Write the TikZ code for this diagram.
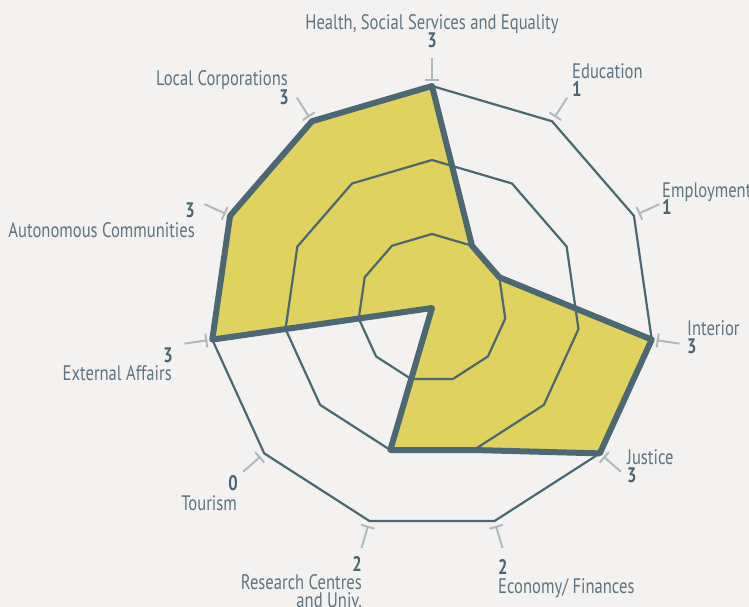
\documentclass[tikz,border=0pt]{standalone}
\usepackage{fontspec}
\setmainfont{PT Sans}
\newfontfamily\lblfam[FakeStretch=0.79]{PT Sans}
\usetikzlibrary{arrows.meta}
\definecolor{bgc}{HTML}{F3F2F0}
\definecolor{yelc}{HTML}{DFD25E}
\definecolor{linec}{HTML}{4C6873}
\definecolor{lblc}{HTML}{5E7480}
\definecolor{numc}{HTML}{4A6571}
\definecolor{tickc}{HTML}{AEB9C0}
\tikzset{
  ring/.style={draw=linec, line width=2.2pt, line join=round},
  datafill/.style={fill=yelc},
  dataline/.style={draw=linec, line width=6pt, line join=round},
  tickmark/.style={draw=tickc, line width=2pt, -{Bar[width=14pt,line width=2pt]}},
  lbl/.style={font=\lblfam\fontsize{21}{23}\selectfont, text=lblc, inner sep=0pt},
  num/.style={font=\lblfam\bfseries\fontsize{21}{23}\selectfont, text=numc, inner sep=0pt}
}
\begin{document}
\begin{tikzpicture}[x=1pt,y=-1pt]
\fill[bgc] (0,0) rectangle (749,607);
\useasboundingbox (0,0) rectangle (749,607);
\begin{scope}[shift={(432,308)}]
  \foreach \v [count=\i from 0] in {3,1,1,3,3,2,2,0,3,3,3} {
    \coordinate (d\i) at ({\i*360/11-90}:{\v*74});
    \coordinate (ta\i) at ({\i*360/11-90}:227);
    \coordinate (tb\i) at ({\i*360/11-90}:250);
  }
  \fill[datafill] (d0) -- (d1) -- (d2) -- (d3) -- (d4) -- (d5) -- (d6) -- (d7) -- (d8) -- (d9) -- (d10) -- cycle;
  \foreach \r in {74,148,222} {
    \draw[ring] (-90:\r) \foreach \i in {1,...,10} { -- ({\i*360/11-90}:\r) } -- cycle;
  }
  \draw[dataline] (d0) -- (d1) -- (d2) -- (d3) -- (d4) -- (d5) -- (d6) -- (d7) -- (d8) -- (d9) -- (d10) -- cycle;
  \foreach \i in {0,...,10} { \draw[tickmark] (tb\i) -- (ta\i); }
\end{scope}
% labels
\node[lbl, anchor=base] (nHealth) at (432,30) {Health, Social Services and Equality};
\node[num, anchor=base] (vHealth) at (432,48) {3};
\node[lbl, anchor=base west] (nEdu) at (572,79) {Education};
\node[num, anchor=base west] (vEdu) at (572,97) {1};
\node[lbl, anchor=base west] (nEmp) at (662,197) {Employment};
\node[num, anchor=base west] (vEmp) at (662,214) {1};
\node[lbl, anchor=base west] (nInt) at (687,335) {Interior};
\node[num, anchor=base west] (vInt) at (687,353) {3};
\node[lbl, anchor=base west] (nJus) at (627,464) {Justice};
\node[num, anchor=base west] (vJus) at (627,482) {3};
\node[num, anchor=base west] (vEco) at (498,574) {2};
\node[lbl, anchor=base west] (nEco) at (498,593) {Economy/ Finances};
\node[num, anchor=base east] (vRes) at (362,571) {2};
\node[lbl, anchor=base east] (nRes) at (362,589) {Research Centres};
\node[lbl, anchor=base east] (nRes2) at (362,607) {and Univ.};
\node[num, anchor=base east] (vTou) at (238,490) {0};
\node[lbl, anchor=base east] (nTou) at (237,510) {Tourism};
\node[num, anchor=base east] (vExt) at (173,362) {3};
\node[lbl, anchor=base east] (nExt) at (172,380) {External Affairs};
\node[num, anchor=base east] (vAut) at (195,217) {3};
\node[lbl, anchor=base east] (nAut) at (195,237) {Autonomous Communities};
\node[lbl, anchor=base east] (nLoc) at (288,86) {Local Corporations};
\node[num, anchor=base east] (vLoc) at (289,105) {3};
\end{tikzpicture}
\end{document}
